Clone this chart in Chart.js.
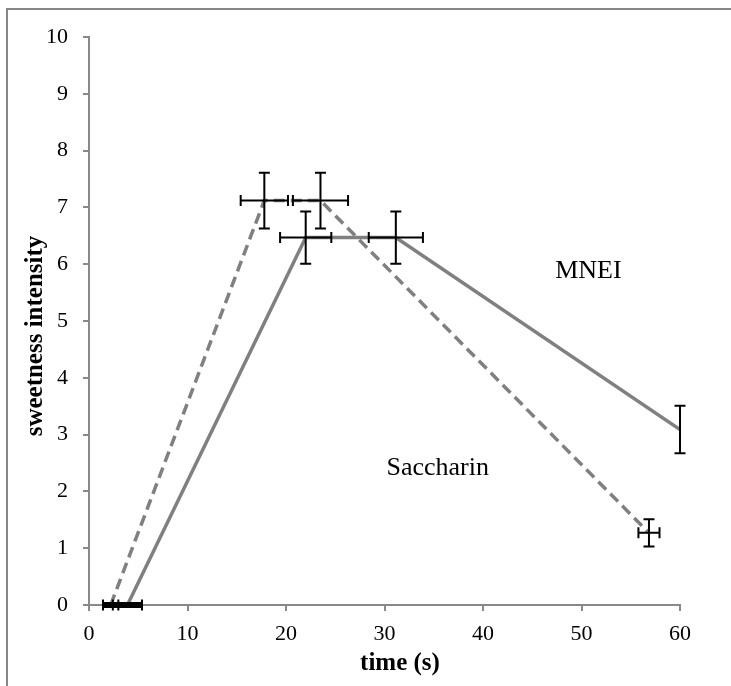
<!DOCTYPE html>
<html>
<head>
<meta charset="utf-8">
<script src="https://cdn.jsdelivr.net/npm/chart.js@4"></script>
<style>
html,body{margin:0;padding:0;background:#fff;}
#wrap{width:731px;height:686px;position:relative;}
</style>
</head>
<body>
<div id="wrap"><canvas id="c" width="731" height="686"></canvas></div>
<script>
// ---- data ----
const saccharinX    = [2.2, 17.8, 23.5, 56.85];
const saccharinY    = [0, 7.12, 7.12, 1.27];
const saccharinXErr = [0.78, 2.4, 2.8, 1.07];
const saccharinYErr = [0, 0.49, 0.49, 0.24];

const mneiX    = [3.9, 22.0, 31.15, 60];
const mneiY    = [0, 6.47, 6.47, 3.09];
const mneiXErr = [1.48, 2.6, 2.75, 0];
const mneiYErr = [0, 0.46, 0.46, 0.42];

const xTicks = [0, 10, 20, 30, 40, 50, 60];
const yTicks = [0, 1, 2, 3, 4, 5, 6, 7, 8, 9, 10];

const seriesLabels = ['Saccharin', 'MNEI'];
const labelPos = [{x: 35.4, y: 2.29}, {x: 50.7, y: 5.76}];
const xTitle = 'time (s)';
const yTitle = 'sweetness intensity';

function pts(xs, ys, xe, ye) {
  return xs.map((x, i) => ({x: x, y: ys[i], xErr: xe[i], yErr: ye[i]}));
}

const GRAY = '#808080';
const AXIS = '#898989';
const SERIF = '"Liberation Serif", "Times New Roman", serif';

const errorBars = {
  id: 'errorBars',
  afterDatasetsDraw(chart) {
    const ctx = chart.ctx;
    const xs = chart.scales.x, ys = chart.scales.y;
    const cap = 5.5;
    ctx.save();
    ctx.strokeStyle = '#000';
    ctx.lineCap = 'butt';
    chart.data.datasets.forEach(ds => {
      ds.data.forEach(p => {
        const cx = xs.getPixelForValue(p.x), cy = ys.getPixelForValue(p.y);
        if (p.yErr > 0) {
          ctx.lineWidth = 2;
          const t = ys.getPixelForValue(p.y + p.yErr), b = ys.getPixelForValue(p.y - p.yErr);
          ctx.beginPath();
          ctx.moveTo(cx, t); ctx.lineTo(cx, b);
          ctx.moveTo(cx - cap, t); ctx.lineTo(cx + cap, t);
          ctx.moveTo(cx - cap, b); ctx.lineTo(cx + cap, b);
          ctx.stroke();
        }
        if (p.xErr > 0) {
          const l = xs.getPixelForValue(p.x - p.xErr), r = xs.getPixelForValue(p.x + p.xErr);
          ctx.lineWidth = 2;
          ctx.beginPath();
          ctx.moveTo(l, cy); ctx.lineTo(r, cy);
          ctx.moveTo(l, cy - cap); ctx.lineTo(l, cy + cap);
          ctx.moveTo(r, cy - cap); ctx.lineTo(r, cy + cap);
          ctx.stroke();
          if (p.yErr === 0) {
            ctx.fillStyle = '#000';
            ctx.fillRect(l, cy - 3, r - l, 6);
          }
        }
      });
    });
    ctx.restore();
  }
};

const decorations = {
  id: 'decorations',
  beforeDraw(chart) {
    const ctx = chart.ctx;
    ctx.save();
    ctx.fillStyle = '#fff';
    ctx.fillRect(0, 0, chart.width, chart.height);
    ctx.strokeStyle = '#868686';
    ctx.lineWidth = 2;
    ctx.beginPath();
    ctx.moveTo(7, 700); ctx.lineTo(7, 9); ctx.lineTo(740, 9);
    ctx.stroke();
    ctx.restore();
  },
  afterDraw(chart) {
    const ctx = chart.ctx;
    const xs = chart.scales.x, ys = chart.scales.y;
    ctx.save();
    ctx.fillStyle = '#000';
    ctx.textAlign = 'center';
    ctx.textBaseline = 'alphabetic';
    ctx.font = '26px ' + SERIF;
    seriesLabels.forEach((s, i) => {
      ctx.fillText(s, xs.getPixelForValue(labelPos[i].x), ys.getPixelForValue(labelPos[i].y));
    });
    ctx.font = 'bold 25px ' + SERIF;
    ctx.fillText(xTitle, 400, 670);
    ctx.translate(42, 336);
    ctx.rotate(-Math.PI / 2);
    ctx.fillText(yTitle, 0, 0);
    ctx.restore();
  }
};

new Chart(document.getElementById('c'), {
  type: 'line',
  data: {
    datasets: [
      {
        label: seriesLabels[0],
        data: pts(saccharinX, saccharinY, saccharinXErr, saccharinYErr),
        borderColor: GRAY, borderWidth: 3.5, borderDash: [11, 6],
        pointRadius: 0, fill: false, tension: 0
      },
      {
        label: seriesLabels[1],
        data: pts(mneiX, mneiY, mneiXErr, mneiYErr),
        borderColor: GRAY, borderWidth: 3.5,
        pointRadius: 0, fill: false, tension: 0
      }
    ]
  },
  options: {
    responsive: false,
    animation: false,
    devicePixelRatio: 1,
    layout: {padding: {top: 37, right: 51, left: 0, bottom: 0}},
    plugins: {legend: {display: false}, tooltip: {enabled: false}},
    scales: {
      x: {
        type: 'linear', min: 0, max: 60,
        afterBuildTicks: s => { s.ticks = xTicks.map(v => ({value: v})); },
        afterFit: s => { s.height = 81; },
        grid: {display: true, drawOnChartArea: false, drawTicks: true, tickLength: 6, color: AXIS, lineWidth: 2},
        border: {display: true, color: AXIS, width: 2},
        ticks: {color: '#000', font: {family: SERIF, size: 22}, padding: 10, maxRotation: 0}
      },
      y: {
        type: 'linear', min: 0, max: 10,
        afterBuildTicks: s => { s.ticks = yTicks.map(v => ({value: v})); },
        afterFit: s => { s.width = 89; },
        grid: {display: true, drawOnChartArea: false, drawTicks: true, tickLength: 6, color: AXIS, lineWidth: 2},
        border: {display: true, color: AXIS, width: 2},
        ticks: {color: '#000', font: {family: SERIF, size: 22}, padding: 15}
      }
    }
  },
  plugins: [decorations, errorBars]
});
</script>
</body>
</html>
